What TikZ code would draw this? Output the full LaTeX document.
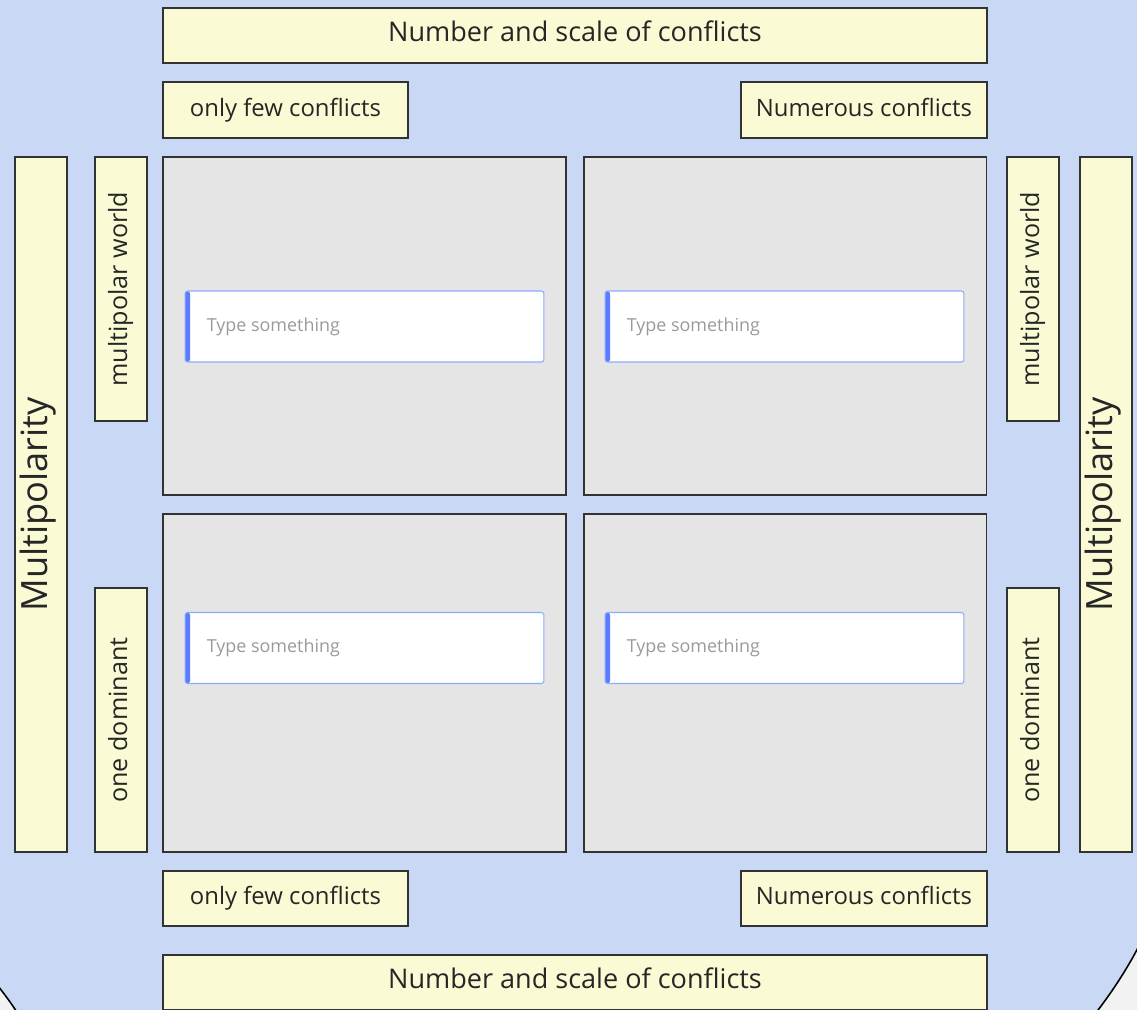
\documentclass[tikz,border=0pt]{standalone}
\usepackage{fontspec}
\setmainfont{Open Sans}
\definecolor{bgblue}{HTML}{C9D9F5}
\definecolor{outgray}{HTML}{F2F2F2}
\definecolor{labfill}{HTML}{FAFBD5}
\definecolor{edge}{HTML}{333333}
\definecolor{quadfill}{HTML}{E5E5E5}
\definecolor{tbborder}{HTML}{8EAAFF}
\definecolor{tbbar}{HTML}{5B7CFF}
\definecolor{tbtext}{HTML}{9A9A9A}
\tikzset{
  lab/.style={draw=edge, line width=1.1pt, fill=labfill, inner sep=0pt, text=black!85, text height=0.9em, text depth=0.2em},
  bigfont/.style={font=\fontsize{15.4}{18}\selectfont},
  midfont/.style={font=\fontsize{13.6}{16}\selectfont},
  vfont/.style={font=\fontsize{14.3}{17}\selectfont},
  hugefont/.style={font=\fontsize{20.6}{24}\selectfont},
  quad/.style={draw=edge, line width=1.1pt, fill=quadfill, minimum width=8.06cm, minimum height=6.76cm, inner sep=0pt},
  tbox/.style={draw=tbborder, line width=0.6pt, fill=white, rounded corners=1.5pt, minimum width=7.18cm, minimum height=1.42cm, inner sep=0pt,
    path picture={\fill[tbbar] (path picture bounding box.south west) rectangle ([xshift=0.1cm]path picture bounding box.north west);}},
  tbtxt/.style={anchor=west, text=tbtext, font=\fontsize{10.2}{12}\selectfont, inner sep=0pt},
}
\begin{document}
\begin{tikzpicture}[x=0.02cm,y=-0.02cm]
\useasboundingbox (0,0) rectangle (1137,1009);
\begin{scope}
\clip (0,0) rectangle (1137,1009);
\fill[outgray] (-5,-5) rectangle (1142,1014);
\fill[bgblue] (-5,-5) -- (1142,-5) -- (1142,940) .. controls (1128,968) and (1112,992) .. (1095,1014) -- (18,1014) .. controls (12,1004) and (5,995) .. (-5,982) -- cycle;
\draw[black, line width=0.9pt] (1142,940) .. controls (1128,968) and (1112,992) .. (1095,1014);
\draw[black, line width=0.9pt] (18,1014) .. controls (12,1004) and (5,995) .. (-5,982);

% top / bottom bars
\node[lab, bigfont, minimum width=16.48cm, minimum height=1.1cm] (topbar) at (575,35.5) {Number and scale of conflicts};
\node[lab, bigfont, minimum width=16.48cm, minimum height=1.1cm] (botbar) at (575,982.5) {Number and scale of conflicts};

\node[lab, midfont, minimum width=4.9cm, minimum height=1.12cm] (fewtop) at (285.5,110) {only few conflicts};
\node[lab, midfont, minimum width=4.92cm, minimum height=1.12cm] (numtop) at (864,110) {Numerous conflicts};
\node[lab, midfont, minimum width=4.9cm, minimum height=1.1cm] (fewbot) at (285.5,898.5) {only few conflicts};
\node[lab, midfont, minimum width=4.92cm, minimum height=1.1cm] (numbot) at (864,898.5) {Numerous conflicts};

% side labels
\node[lab, hugefont, rotate=90, minimum width=13.9cm, minimum height=1.04cm] (multL) at (41,504.5) {Multipolarity};
\node[lab, hugefont, rotate=90, minimum width=13.9cm, minimum height=1.04cm] (multR) at (1106,504.5) {Multipolarity};
\node[lab, vfont, rotate=90, minimum width=5.28cm, minimum height=1.04cm] (mwL) at (121,289) {multipolar world};
\node[lab, vfont, rotate=90, minimum width=5.28cm, minimum height=1.04cm] (mwR) at (1033,289) {multipolar world};
\node[lab, vfont, rotate=90, minimum width=5.28cm, minimum height=1.04cm] (odL) at (121,720) {one dominant};
\node[lab, vfont, rotate=90, minimum width=5.28cm, minimum height=1.04cm] (odR) at (1033,720) {one dominant};

% quadrants
\node[quad] (qTL) at (364.5,326) {};
\node[quad] (qTR) at (785,326) {};
\node[quad] (qBL) at (364.5,683) {};
\node[quad] (qBR) at (785,683) {};

% text boxes
\node[tbox] (tTL) at (364.5,326.5) {};
\node[tbox] (tTR) at (784.5,326.5) {};
\node[tbox] (tBL) at (364.5,648) {};
\node[tbox] (tBR) at (784.5,648) {};
\node[tbtxt] (xTL) at ([xshift=0.44cm]tTL.west) {Type something};
\node[tbtxt] (xTR) at ([xshift=0.44cm]tTR.west) {Type something};
\node[tbtxt] (xBL) at ([xshift=0.44cm]tBL.west) {Type something};
\node[tbtxt] (xBR) at ([xshift=0.44cm]tBR.west) {Type something};
\end{scope}
\end{tikzpicture}
\end{document}
